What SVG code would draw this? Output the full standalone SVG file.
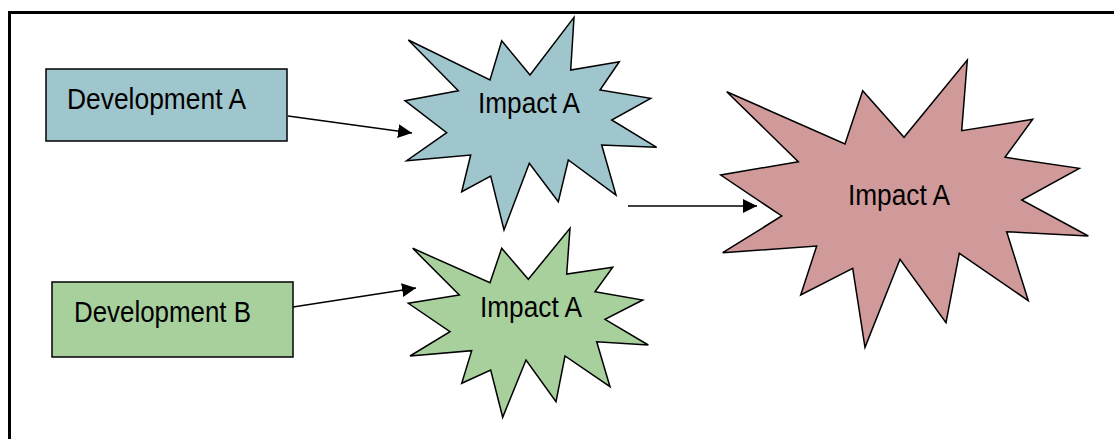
<svg xmlns="http://www.w3.org/2000/svg" width="1114" height="439" viewBox="0 0 1114 439">
<style>
.shape{stroke:#000;stroke-width:1.5;stroke-linejoin:miter}
.blue{fill:#a0c6cd}
.green{fill:#a8d09d}
.red{fill:#d09a9a}
.lbl{font-family:"Liberation Sans",Arial,sans-serif;font-size:29.5px;fill:#000}
.conn{stroke:#000;stroke-width:1.6;fill:none}
</style>
<defs>
<marker id="ah" markerUnits="userSpaceOnUse" markerWidth="15" markerHeight="15" refX="14" refY="7" orient="auto" viewBox="0 0 15 15">
<path d="M0,0 L14,7 L0,14 z" fill="#000"/>
</marker>
</defs>
<rect width="1114" height="439" fill="#fff"/>
<g id="frame">
<path d="M9.5,439 V12.5 H1114" fill="none" stroke="#000" stroke-width="3"/>
</g>
<g id="devA">
<rect class="shape blue" x="46" y="69" width="241" height="72"/>
<text class="lbl" x="67" y="108.5" textLength="179" lengthAdjust="spacingAndGlyphs">Development A</text>
</g>
<g id="devB">
<rect class="shape green" x="52" y="282" width="241" height="75"/>
<text class="lbl" x="74" y="322" textLength="177" lengthAdjust="spacingAndGlyphs">Development B</text>
</g>
<g id="impactBlue">
<polygon class="shape blue" points="408.3,40 490,80 501.7,40.7 530,75 574,17.3 570.7,70 619.3,61.7 600,90 650.7,98.3 611.7,120 656.7,147.3 601.7,145 616,195 568.3,160 558.3,201.7 529.3,163.3 504,230 490.7,176 461.7,191.7 470.7,155 406.7,160.7 446.7,132.7 405,100.7 458.3,90.7"/>
<text class="lbl" x="478" y="113" textLength="102" lengthAdjust="spacingAndGlyphs">Impact A</text>
</g>
<g id="impactGreen">
<polygon class="shape green" points="412.7,248.3 490,282.7 501.7,248.3 528.3,279.3 570,228.3 566.7,274 612.7,267.3 595,291.7 642.7,300 605,319.3 648.3,345 596.7,341.7 610,386.7 565,356 556,401.7 526,360 502.7,417.3 490.7,370 461.7,383.3 471.7,350.7 410,356 450,331.7 408.3,303.3 459.3,295"/>
<text class="lbl" x="480" y="317" textLength="102" lengthAdjust="spacingAndGlyphs">Impact A</text>
</g>
<g id="impactRed">
<polygon class="shape red" points="726.7,91.7 845,144 862.7,90.7 904,137.3 967.3,60 961.7,130.7 1032.7,119.3 1005,157.3 1079.3,168.3 1021.7,200 1088.3,236 1006.7,231.7 1028.3,300.7 959.3,253.3 946,322.7 900,259.3 865,347.3 852.7,268.3 800.7,295 816.7,246 722.7,252.7 781.7,216 720.7,175 798.3,161.7"/>
<text class="lbl" x="848" y="205" textLength="102" lengthAdjust="spacingAndGlyphs">Impact A</text>
</g>
<g id="connectors">
<line class="conn" x1="288" y1="116" x2="412" y2="133" marker-end="url(#ah)"/>
<line class="conn" x1="293" y1="307" x2="416" y2="288" marker-end="url(#ah)"/>
<line class="conn" x1="628" y1="206" x2="757" y2="206" marker-end="url(#ah)"/>
</g>
</svg>
